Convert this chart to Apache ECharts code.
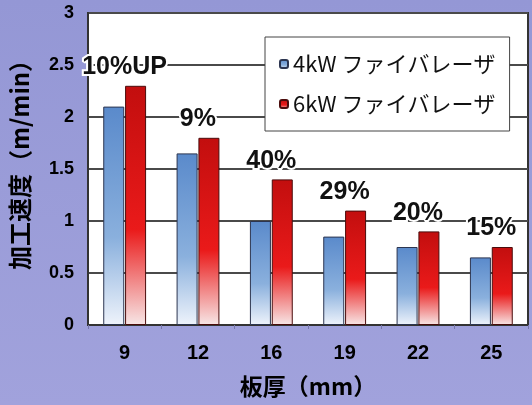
<!DOCTYPE html>
<html><head><meta charset="utf-8">
<script src="https://cdn.jsdelivr.net/npm/echarts@6/dist/echarts.min.js"></script>
<style>html,body{margin:0;padding:0;background:#9d9fd9;}#c{width:532px;height:405px;}</style>
</head><body><div id="c"></div>
<script>
const categories = ['9', '12', '16', '19', '22', '25'];
const series4kW = [2.1, 1.65, 1.0, 0.85, 0.75, 0.65];
const series6kW = [2.3, 1.8, 1.4, 1.1, 0.9, 0.75];
const upLabels = ['10%UP', '9%', '40%', '29%', '20%', '15%'];
const seriesNames = ['4kW ファイバレーザ', '6kW ファイバレーザ'];
const yTicks = [0, 0.5, 1, 1.5, 2, 2.5, 3];

const FONT = '"Liberation Sans", Arial, "Noto Sans CJK JP", sans-serif';
const chart = echarts.init(document.getElementById('c'));
const grad = (top, mid, bottom) => new echarts.graphic.LinearGradient(0, 0, 0, 1, [
  {offset: 0, color: top}, {offset: 0.6, color: mid}, {offset: 1, color: bottom}
]);
chart.setOption({
  backgroundColor: new echarts.graphic.LinearGradient(0, 0, 0, 1, [
    {offset: 0, color: '#9497d5'}, {offset: 1, color: '#a1a2dc'}
  ]),
  animation: false,
  textStyle: {fontFamily: FONT},
  grid: {left: 87, right: 4, top: 13, bottom: 80, show: true, backgroundColor: '#ffffff', borderColor: '#333', borderWidth: 2},
  legend: {
    orient: 'vertical', left: 265, top: 37, width: 243,
    padding: [16, 14, 16, 14], itemGap: 18,
    backgroundColor: '#ffffff', borderColor: '#444', borderWidth: 1,
    itemWidth: 8, itemHeight: 8,
    textStyle: {fontSize: 22, color: '#111', fontFamily: '"Noto Sans CJK JP", sans-serif'},
    data: seriesNames
  },
  xAxis: {
    type: 'category', data: categories,
    name: '板厚（mm）', nameLocation: 'middle', nameGap: 50,
    nameTextStyle: {fontSize: 23, fontWeight: 'bold', color: '#000', fontFamily: '"Noto Sans CJK JP", sans-serif'},
    axisLine: {lineStyle: {color: '#333', width: 2}},
    axisTick: {show: true, length: 4, lineStyle: {color: '#7777aa'}},
    axisLabel: {fontSize: 20, fontWeight: 'bold', color: '#000', margin: 18}
  },
  yAxis: {
    type: 'value', min: yTicks[0], max: yTicks[yTicks.length - 1], interval: 0.5,
    name: '加工速度（m/min）', nameLocation: 'middle', nameGap: 56, nameRotate: 90,
    nameTextStyle: {fontSize: 24, fontWeight: 'bold', color: '#000', fontFamily: '"Noto Sans CJK JP", sans-serif', padding: [0, 0, 0, 20]},
    axisLine: {show: true, lineStyle: {color: '#333', width: 2}},
    axisTick: {show: false},
    splitLine: {lineStyle: {color: '#4a4a4a', width: 2}},
    axisLabel: {fontSize: 18, fontWeight: 'bold', color: '#000', margin: 14}
  },
  series: [
    {
      name: seriesNames[0], type: 'bar', data: series4kW,
      barWidth: 21, barGap: '4%',
      itemStyle: {color: grad('#5a8acb', '#8ab0dd', '#eef3fb'), borderColor: '#2c3550', borderWidth: 1}
    },
    {
      name: seriesNames[1], type: 'bar', data: series6kW,
      barWidth: 21,
      itemStyle: {color: grad('#c20e0e', '#ea1a1a', '#f7e6e6'), borderColor: '#4a0c0c', borderWidth: 1},
      label: {
        show: true, position: 'top', distance: 6, offset: [-11, 0],
        formatter: p => upLabels[p.dataIndex],
        fontSize: 25, fontWeight: 'bold', color: '#111',
        textBorderColor: '#ffffff', textBorderWidth: 4
      }
    }
  ]
});
</script></body></html>
